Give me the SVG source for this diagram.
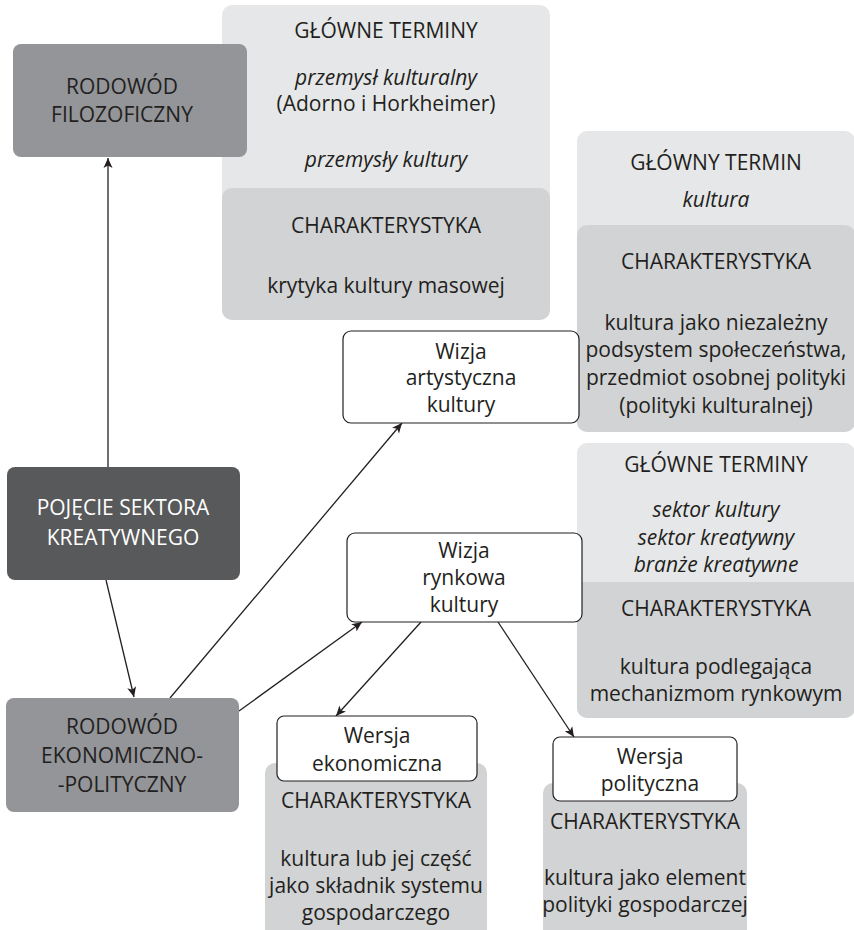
<svg xmlns="http://www.w3.org/2000/svg" width="854" height="930" viewBox="0 0 854 930">
<defs>
<marker id="ah" viewBox="0 0 10 10" refX="10" refY="5" markerWidth="10" markerHeight="10" markerUnits="userSpaceOnUse" orient="auto">
<path d="M0,0.5 L10,5 L0,9.5 L2.5,5 Z" fill="#231f20"/>
</marker>
<style>
text{font-family:"Open Sans","Liberation Sans",sans-serif;font-size:21px;fill:#231f20;text-anchor:middle}
.w{fill:#ffffff}
.i{font-style:italic}
.lt{fill:#e6e7e8}
.dk{fill:#d1d3d4}
.mid{fill:#939598}
.blk{fill:#58595b}
.box{fill:#ffffff;stroke:#231f20;stroke-width:1.2}
.c{stroke:#231f20;stroke-width:1.3;fill:none;marker-end:url(#ah)}
</style>
</defs>
<g id="panel-filozoficzny">
<rect class="lt" x="222" y="5" width="328" height="315" rx="10"/>
<rect class="dk" x="222" y="188" width="328" height="132" rx="10"/>
<text x="386" y="38">GŁÓWNE TERMINY</text>
<text class="i" x="386" y="85">przemysł kulturalny</text>
<text x="386" y="111">(Adorno i Horkheimer)</text>
<text class="i" x="386" y="167">przemysły kultury</text>
<text x="386" y="233">CHARAKTERYSTYKA</text>
<text x="386" y="293">krytyka kultury masowej</text>
</g>
<g id="panel-artystyczna">
<rect class="lt" x="577" y="131" width="278" height="301" rx="10"/>
<rect class="dk" x="577" y="225" width="278" height="207" rx="10"/>
<text x="716" y="170">GŁÓWNY TERMIN</text>
<text class="i" x="716" y="207">kultura</text>
<text x="716" y="269">CHARAKTERYSTYKA</text>
<text x="716" y="330">kultura jako niezależny</text>
<text x="716" y="357">podsystem społeczeństwa,</text>
<text x="716" y="385">przedmiot osobnej polityki</text>
<text x="716" y="413">(polityki kulturalnej)</text>
</g>
<g id="panel-rynkowa">
<rect class="lt" x="577" y="443" width="278" height="275" rx="10"/>
<rect class="dk" x="577" y="582" width="278" height="136" rx="10"/>
<rect class="dk" x="577" y="582" width="278" height="12"/>
<text x="716" y="472">GŁÓWNE TERMINY</text>
<text class="i" x="716" y="517">sektor kultury</text>
<text class="i" x="716" y="545">sektor kreatywny</text>
<text class="i" x="716" y="572">branże kreatywne</text>
<text x="716" y="616">CHARAKTERYSTYKA</text>
<text x="716" y="674">kultura podlegająca</text>
<text x="716" y="701">mechanizmom rynkowym</text>
</g>
<g id="panel-ekonomiczna">
<rect class="dk" x="265" y="763" width="222" height="180" rx="10"/>
<text x="376" y="808">CHARAKTERYSTYKA</text>
<text x="376" y="866">kultura lub jej część</text>
<text x="376" y="893">jako składnik systemu</text>
<text x="376" y="920">gospodarczego</text>
</g>
<g id="panel-polityczna">
<rect class="dk" x="543" y="783" width="204" height="160" rx="10"/>
<text x="645" y="829">CHARAKTERYSTYKA</text>
<text x="645" y="885">kultura jako element</text>
<text x="645" y="912">polityki gospodarczej</text>
</g>
<g id="connectors">
<line class="c" x1="108" y1="467" x2="108" y2="158"/>
<line class="c" x1="106" y1="580" x2="134" y2="697"/>
<line class="c" x1="170" y1="698" x2="402" y2="423"/>
<line class="c" x1="239" y1="711" x2="362" y2="622"/>
<line class="c" x1="421" y1="622" x2="336" y2="716"/>
<line class="c" x1="498" y1="622" x2="574" y2="737"/>
</g>
<g id="rodowod-filozoficzny">
<rect class="mid" x="13" y="44" width="234" height="113" rx="8"/>
<text x="122" y="94">RODOWÓD</text>
<text x="122" y="122">FILOZOFICZNY</text>
</g>
<g id="pojecie">
<rect class="blk" x="7" y="467" width="233" height="113" rx="8"/>
<text class="w" x="123" y="515">POJĘCIE SEKTORA</text>
<text class="w" x="123" y="545">KREATYWNEGO</text>
</g>
<g id="rodowod-ekonomiczno">
<rect class="mid" x="6" y="698" width="233" height="114" rx="8"/>
<text x="122" y="734">RODOWÓD</text>
<text x="122" y="763">EKONOMICZNO-</text>
<text x="122" y="792">-POLITYCZNY</text>
</g>
<g id="wizja-artystyczna">
<rect class="box" x="343" y="331" width="236" height="92" rx="8"/>
<text x="461" y="359">Wizja</text>
<text x="461" y="385">artystyczna</text>
<text x="461" y="412">kultury</text>
</g>
<g id="wizja-rynkowa">
<rect class="box" x="347" y="533" width="235" height="89" rx="8"/>
<text x="464" y="558">Wizja</text>
<text x="464" y="585">rynkowa</text>
<text x="464" y="612">kultury</text>
</g>
<g id="wersja-ekonomiczna">
<rect class="box" x="277" y="716" width="200" height="65" rx="7"/>
<text x="377" y="743">Wersja</text>
<text x="377" y="771">ekonomiczna</text>
</g>
<g id="wersja-polityczna">
<rect class="box" x="553" y="737" width="184" height="64" rx="7"/>
<text x="650" y="764">Wersja</text>
<text x="650" y="791">polityczna</text>
</g>
</svg>
